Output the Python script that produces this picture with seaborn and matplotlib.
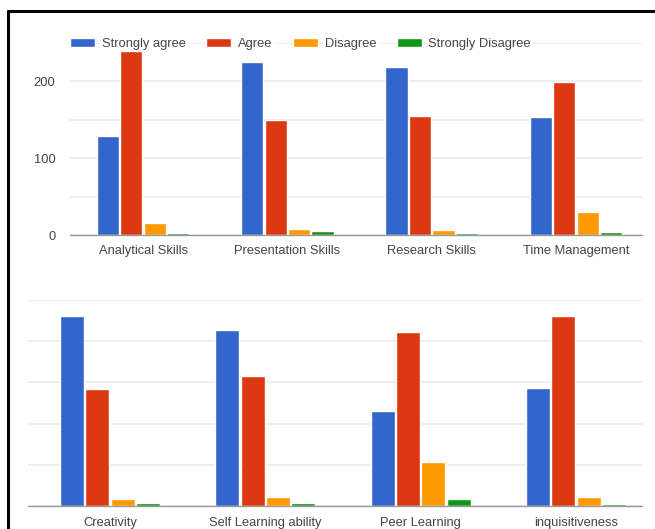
import matplotlib
matplotlib.use("Agg")
import matplotlib.pyplot as plt
import seaborn as sns
import pandas as pd
from matplotlib.lines import Line2D

# ---- data ----
responses = ["Strongly agree", "Agree", "Disagree", "Strongly Disagree"]
colors = ["#3366CC", "#DC3912", "#FF9900", "#109618"]

top_skills = ["Analytical Skills", "Presentation Skills", "Research Skills", "Time Management"]
top_strongly_agree = [129, 225, 219, 153]
top_agree = [239, 150, 155, 199]
top_disagree = [16, 8, 6, 30]
top_strongly_disagree = [3, 5, 3, 4]

bottom_skills = ["Creativity", "Self Learning ability", "Peer Learning", "inquisitiveness"]
bottom_strongly_agree = [230, 213, 115, 143]
bottom_agree = [142, 158, 211, 230]
bottom_disagree = [8, 11, 53, 11]
bottom_strongly_disagree = [4, 4, 9, 2]

y_ticks = [0, 50, 100, 150, 200, 250]
top_y_labels = ["0", "", "100", "", "200", ""]
bottom_y_labels = ["", "", "", "", "", ""]


def long_frame(skills, series):
    rows = []
    for resp, vals in zip(responses, series):
        for s, v in zip(skills, vals):
            rows.append({"skill": s, "response": resp, "count": v})
    return pd.DataFrame(rows)


df_top = long_frame(top_skills, [top_strongly_agree, top_agree, top_disagree, top_strongly_disagree])
df_bot = long_frame(bottom_skills, [bottom_strongly_agree, bottom_agree, bottom_disagree, bottom_strongly_disagree])

sns.set_theme(style="white")
plt.rcParams["font.family"] = ["Liberation Sans", "DejaVu Sans"]

W, H = 655, 529
fig = plt.figure(figsize=(W / 100, H / 100), dpi=100)
fig.patch.set_facecolor("white")

ax_top = fig.add_axes([70 / W, 1 - 235 / H, (642 - 70) / W, (235 - 43) / H])
ax_bot = fig.add_axes([28 / W, 1 - 506 / H, (642 - 28) / W, (506 - 300) / H])

text_color = "#444444"
grid_color = "#e9e9e9"
base_color = "#9a9a9a"
fs = 9.3


def style(ax, df, skills, ylabels, xlim, xpad, legend):
    sns.barplot(data=df, x="skill", y="count", hue="response", order=skills,
                hue_order=responses, palette=colors, width=0.65, gap=0.05,
                saturation=1, ax=ax, legend=legend, zorder=3)
    ax.set_ylim(0, 250)
    ax.set_xlim(*xlim)
    ax.set_yticks(y_ticks)
    ax.set_yticklabels(ylabels)
    ax.set_xlabel("")
    ax.set_ylabel("")
    for sp in ax.spines.values():
        sp.set_visible(False)
    ax.grid(axis="y", color=grid_color, linewidth=1.1, zorder=0)
    ax.grid(axis="x", visible=False)
    ax.set_axisbelow(True)
    ax.axhline(0, color=base_color, linewidth=1.0, zorder=4, clip_on=False)
    ax.tick_params(axis="y", length=0, pad=10.5, labelsize=fs, labelcolor=text_color)
    ax.tick_params(axis="x", length=0, pad=xpad, labelsize=fs, labelcolor=text_color)


style(ax_top, df_top, top_skills, top_y_labels, (-0.506, 3.457), 7.5, True)
style(ax_bot, df_bot, bottom_skills, bottom_y_labels, (-0.528, 3.425), 8.0, False)

handles, labels = ax_top.get_legend_handles_labels()
leg = ax_top.legend(handles, labels, loc="center left", bbox_to_anchor=(0.0, 0.995),
                    ncol=4, frameon=False, borderpad=0, borderaxespad=0,
                    handlelength=1.95, handleheight=0.78, handletextpad=0.5,
                    columnspacing=1.6, fontsize=fs)
for t in leg.get_texts():
    t.set_color(text_color)
    t.set_bbox(dict(facecolor="white", edgecolor="none", pad=1.2))
leg.set_zorder(6)

# black frame of the screenshot (left and top edges)
fig.add_artist(Line2D([7.5 / W, 7.5 / W], [0, 1 - 10.5 / H], color="black",
                      linewidth=2.2, transform=fig.transFigure))
fig.add_artist(Line2D([7.5 / W, 1], [1 - 10.5 / H, 1 - 10.5 / H], color="black",
                      linewidth=2.2, transform=fig.transFigure))

fig.savefig("out.png", dpi=100, facecolor="white")
